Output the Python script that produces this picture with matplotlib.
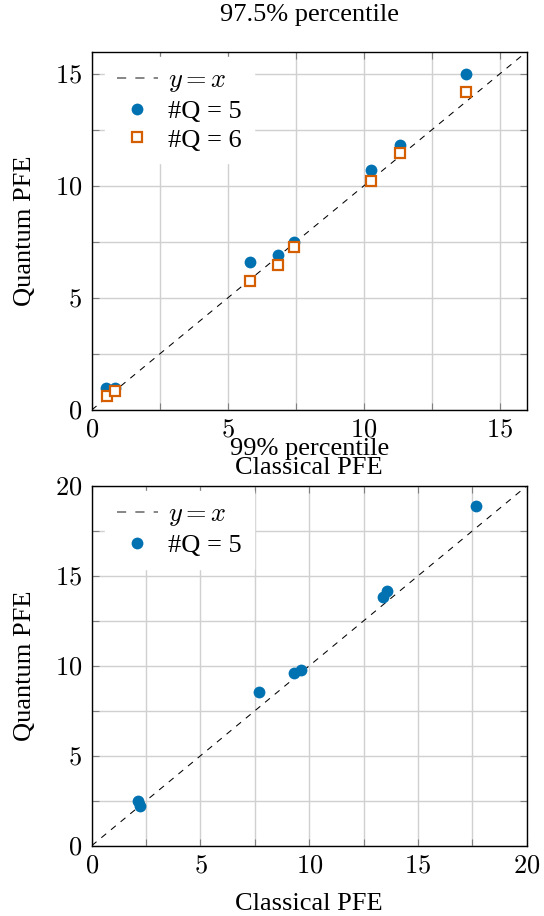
import matplotlib
matplotlib.use("Agg")
import matplotlib.pyplot as plt
from matplotlib.ticker import MultipleLocator, FixedLocator, FixedFormatter

plt.rcParams['font.family'] = ['Liberation Serif', 'DejaVu Serif']
plt.rcParams['mathtext.fontset'] = 'cm'

# ---- data: 97.5% percentile ----
top_cls_q5 = [0.53, 0.86, 5.84, 6.85, 7.43, 10.29, 11.35, 13.78]
top_qnt_q5 = [0.97, 0.97, 6.62, 6.92, 7.52, 10.72, 11.82, 15.02]
top_cls_q6 = [0.55, 0.87, 5.84, 6.85, 7.43, 10.29, 11.35, 13.78]
top_qnt_q6 = [0.63, 0.85, 5.76, 6.49, 7.28, 10.24, 11.46, 14.20]

# ---- data: 99% percentile ----
bot_cls_q5 = [2.15, 2.22, 7.69, 9.32, 9.61, 13.38, 13.59, 17.67]
bot_qnt_q5 = [2.50, 2.21, 8.56, 9.62, 9.75, 13.83, 14.14, 18.89]

top_ticks = [0, 5, 10, 15]
top_ticklabels = ['$0$', '$5$', '$10$', '$15$']
bot_ticks = [0, 5, 10, 15, 20]
bot_ticklabels = ['$0$', '$5$', '$10$', '$15$', '$20$']

titles = ['97.5% percentile', '99% percentile']
xlabel = 'Classical PFE'
ylabel = 'Quantum PFE'
leg_line = '$y = x$'
leg_q5 = '#Q = 5'
leg_q6 = '#Q = 6'

BLUE = '#0072B2'
ORANGE = '#D55E00'
FS = 19
TFS = 19

W, H = 544, 916
fig = plt.figure(figsize=(W / 100, H / 100), dpi=100)

def px_axes(l, t, r, b):
    return fig.add_axes([l / W, 1 - b / H, (r - l) / W, (b - t) / H])

ax1 = px_axes(91.7, 51.7, 526.7, 410.0)
ax2 = px_axes(91.7, 486.0, 526.7, 845.7)

def style(ax, lim, ticks, labels, title):
    ax.set_xlim(0, lim)
    ax.set_ylim(0, lim)
    ax.xaxis.set_major_locator(FixedLocator(ticks))
    ax.yaxis.set_major_locator(FixedLocator(ticks))
    ax.xaxis.set_major_formatter(FixedFormatter(labels))
    ax.yaxis.set_major_formatter(FixedFormatter(labels))
    ax.xaxis.set_minor_locator(MultipleLocator(2.5))
    ax.yaxis.set_minor_locator(MultipleLocator(2.5))
    ax.grid(True, which='both', color='#d0d0d0', linewidth=1.0, zorder=0)
    ax.set_axisbelow(True)
    ax.tick_params(which='both', direction='in', length=5, width=0.8,
                   color='#808080', top=True, right=True)
    ax.tick_params(which='major', labelsize=TFS, pad=7)
    for s in ax.spines.values():
        s.set_linewidth(1.0)
        s.set_color('black')
        s.set_zorder(5)
    ax.set_title(title, fontsize=FS, pad=22)
    ax.set_xlabel(xlabel, fontsize=FS, va='baseline')
    ax.xaxis.set_label_coords(0.5, -63.5 / 358.0)
    ax.set_ylabel(ylabel, fontsize=FS, va='center')
    ax.yaxis.set_label_coords(-67.0 / 435.0, 0.5)

style(ax1, 16, top_ticks, top_ticklabels, titles[0])
style(ax2, 20, bot_ticks, bot_ticklabels, titles[1])

for ax, lim in ((ax1, 16), (ax2, 20)):
    ax.plot([0, lim], [0, lim], color='black', linewidth=0.75,
            linestyle=(0, (6, 6)), label=leg_line, zorder=2)

ax1.plot(top_cls_q5, top_qnt_q5, linestyle='none', marker='o', markersize=8.5,
         color=BLUE, markeredgewidth=0, label=leg_q5, zorder=3)
ax1.plot(top_cls_q6, top_qnt_q6, linestyle='none', marker='s', markersize=7.5,
         markerfacecolor='white', markeredgecolor=ORANGE, markeredgewidth=1.6,
         label=leg_q6, zorder=4)
ax2.plot(bot_cls_q5, bot_qnt_q5, linestyle='none', marker='o', markersize=8.5,
         color=BLUE, markeredgewidth=0, label=leg_q5, zorder=3)

for ax in (ax1, ax2):
    h_ax = ax.get_position().height * H
    leg = ax.legend(loc='upper left', bbox_to_anchor=(0.03, 1 - 5.0 / h_ax),
                    fontsize=FS, frameon=True, fancybox=False, framealpha=1.0,
                    edgecolor='white', facecolor='white', borderpad=0.45,
                    handlelength=1.55, handletextpad=0.4, labelspacing=0.2,
                    borderaxespad=0.0)
    leg.get_lines()[0].set_color('#666666')
    leg.get_lines()[0].set_linewidth(1.1)
    leg.set_zorder(6)

fig.savefig('out.png', dpi=100)
